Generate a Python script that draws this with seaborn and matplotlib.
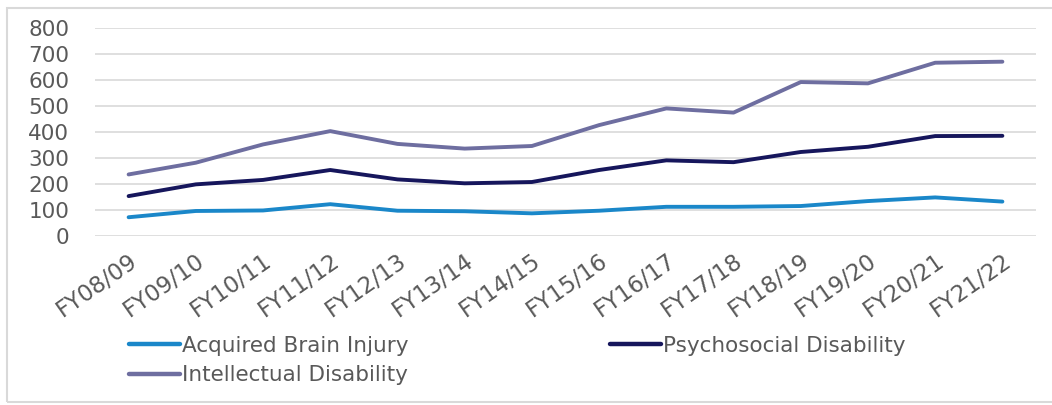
import numpy as np
import pandas as pd
import matplotlib
matplotlib.use("Agg")
import matplotlib.pyplot as plt
import matplotlib.transforms as mtransforms
import seaborn as sns
from matplotlib.patches import Rectangle

years = ["FY08/09", "FY09/10", "FY10/11", "FY11/12", "FY12/13", "FY13/14", "FY14/15",
         "FY15/16", "FY16/17", "FY17/18", "FY18/19", "FY19/20", "FY20/21", "FY21/22"]
abi = [73, 97, 99, 123, 98, 96, 88, 98, 113, 113, 116, 135, 149, 133]
psy = [154, 199, 216, 254, 218, 203, 208, 254, 291, 284, 323, 343, 384, 385]
intel = [237, 282, 352, 403, 354, 336, 346, 426, 490, 474, 591, 586, 665, 669]
series_names = ["Acquired Brain Injury", "Psychosocial Disability", "Intellectual Disability"]
colors = ["#1a87c9", "#16165c", "#6e6ea0"]
yticks = [0, 100, 200, 300, 400, 500, 600, 700, 800]

sns.set_style("white")
plt.rcParams["font.family"] = ["DejaVu Sans"]
TXT = "#595959"

rows = []
for name, vals in zip(series_names, [abi, psy, intel]):
    for i, v in enumerate(vals):
        rows.append({"pos": i, "value": v, "series": name})
df = pd.DataFrame(rows)

W, H = 1052, 405
fig = plt.figure(figsize=(W / 100, H / 100), dpi=100)
ax_l, ax_r, ax_t, ax_b = 95, 1036, 27.5, 236.3
ax = fig.add_axes([ax_l / W, 1 - ax_b / H, (ax_r - ax_l) / W, (ax_b - ax_t) / H])

sns.lineplot(data=df, x="pos", y="value", hue="series", hue_order=series_names,
             palette=colors, linewidth=2.8, ax=ax, legend=False, sort=False)

ax.set_xlim(-0.5, len(years) - 0.5)
ax.set_ylim(0, 800)
ax.set_yticks(yticks)
ax.set_yticklabels([str(t) for t in yticks], fontsize=15.5, color=TXT)
ax.set_xticks(range(len(years)))
ax.set_xticklabels(years, fontsize=16.5, color=TXT, rotation=35, ha="right",
                   rotation_mode="anchor", va="top")
offset = mtransforms.ScaledTranslation(7 / 100, 0, fig.dpi_scale_trans)
for lab in ax.get_xticklabels():
    lab.set_transform(lab.get_transform() + offset)
ax.tick_params(axis="y", length=0, pad=18.5)
ax.tick_params(axis="x", length=0, pad=9)
ax.yaxis.grid(True, color="#d9d9d9", linewidth=1.2)
ax.xaxis.grid(False)
for s in ax.spines.values():
    s.set_visible(False)
ax.set_xlabel("")
ax.set_ylabel("")

# outer frame
fig.patches.append(Rectangle((7 / W, 1 - 402 / H), 1.2, (402 - 8) / H,
                             transform=fig.transFigure, fill=False,
                             edgecolor="#d9d9d9", linewidth=1.5))

handles = [plt.Line2D([], [], color=c, linewidth=3.2) for c in colors]
order = [0, 2, 1]
fs = 15.5
leg_kw = dict(loc="center left", bbox_to_anchor=(129 / W, 1 - 360.5 / H),
              ncol=2, frameon=False, fontsize=fs, handlelength=2.35,
              handletextpad=0.12, borderaxespad=0, borderpad=0, labelspacing=0.45,
              labelcolor=TXT)
leg = fig.legend([handles[i] for i in order], [series_names[i] for i in order],
                 columnspacing=1.0, **leg_kw)
fig.canvas.draw()
r = fig.canvas.get_renderer()
tw = max(t.get_window_extent(r).width for t in leg.get_texts()[:2])
fs_px = fs * 100 / 72
col1 = 2.35 * fs_px + 0.12 * fs_px + tw
cs = (610 - 129 - col1) / fs_px
leg.remove()
leg = fig.legend([handles[i] for i in order], [series_names[i] for i in order],
                 columnspacing=cs, **leg_kw)

fig.savefig("out.png", dpi=100)
